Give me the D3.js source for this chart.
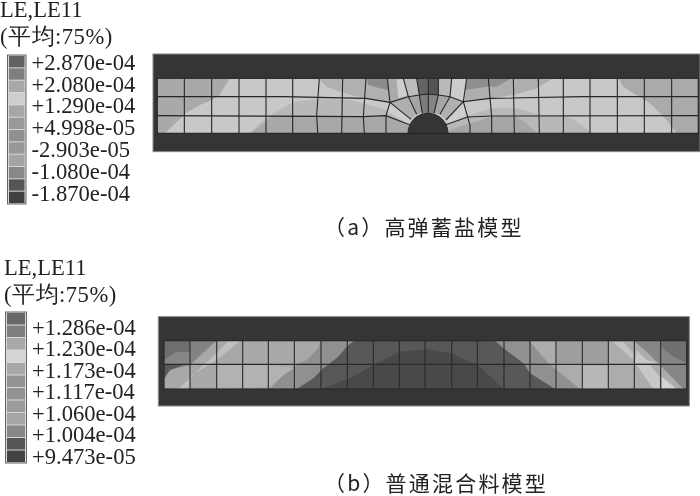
<!DOCTYPE html>
<html>
<head>
<meta charset="utf-8">
<script src="https://cdn.jsdelivr.net/npm/d3@7"></script>
<style>
  html, body { margin: 0; padding: 0; background: #fff; }
  text { font-family: 'Liberation Serif', serif; fill: #222; }
  .cjk { font-family: 'Noto Sans CJK SC', sans-serif; }
</style>
</head>
<body>
<svg id="chart" width="700" height="496"></svg>
<script>
// legends
const legendTitle = 'LE,LE11';
const legendSub = '(平均:75%)';
const legendGreysA = [98, 126, 168, 206, 166, 153, 144, 152, 164, 136, 84, 64];
const legendGreysB = [104, 126, 168, 212, 168, 148, 146, 156, 166, 136, 84, 66];
const ticksA = ['+2.870e-04', '+2.080e-04', '+1.290e-04', '+4.998e-05', '-2.903e-05', '-1.080e-04', '-1.870e-04'];
const ticksB = ['+1.286e-04', '+1.230e-04', '+1.173e-04', '+1.117e-04', '+1.060e-04', '+1.004e-04', '+9.473e-05'];
const captionA = '（a）高弹蓄盐模型';
const captionB = '（b）普通混合料模型';

// model (a): straight-ish columns and mesh lines, model units
const meshA = [
  [[103, 100], [103, 265]], [[185, 100], [185, 265]], [[267, 100], [267, 265]],
  [[348, 100], [348, 265]], [[428, 100], [428, 265]],
  [[508, 100], [500, 210], [503, 265]], [[578, 100], [575, 265]],
  [[648, 100], [640, 215], [643, 265]],
  [[712, 100], [720, 172], [708, 212], [708, 265]],
  [[760, 100], [775, 155], [800, 208]], [[800, 100], [808, 150], [817, 205]],
  [[835, 100], [835, 205]], [[865, 100], [865, 150], [852, 205]],
  [[905, 100], [900, 155], [870, 208]],
  [[950, 100], [940, 170], [953, 216], [960, 240], [960, 265]],
  [[1015, 100], [1025, 215], [1025, 265]], [[1090, 100], [1093, 265]],
  [[1165, 100], [1168, 265]], [[1240, 100], [1240, 265]], [[1320, 100], [1320, 265]],
  [[1402, 100], [1402, 265]], [[1483, 100], [1483, 265]], [[1565, 100], [1565, 265]],
  // rows
  [[22, 155], [400, 155], [648, 160], [720, 172], [775, 155], [808, 150], [835, 147],
   [865, 150], [900, 155], [940, 170], [1020, 160], [1300, 155], [1650, 155]],
  [[22, 212], [640, 215], [708, 212], [780, 240]],
  [[885, 240], [953, 216], [1025, 213], [1650, 212]],
  // spokes to the hole
  [[720, 172], [783, 223]], [[940, 170], [888, 225]],
];

// contour patches of (a): grey level, outline
const contoursA = [
  [169, [[22, 100], [240, 100], [205, 155], [185, 165], [150, 180], [105, 205], [100, 212], [70, 240], [45, 265], [22, 265]]],
  [184, [[300, 265], [330, 235], [370, 205], [430, 172], [510, 160], [600, 165], [660, 180], [720, 200], [775, 240], [770, 265]]],
  [168, [[300, 265], [335, 240], [370, 210], [500, 210], [640, 215], [708, 212], [780, 245], [770, 265]]],
  [176, [[505, 100], [530, 125], [600, 150], [650, 160], [720, 172], [712, 100]]],
  [140, [[650, 100], [655, 120], [690, 130], [716, 135], [712, 100]]],
  [170, [[1405, 100], [1650, 100], [1650, 265], [1580, 265], [1550, 225], [1500, 175], [1450, 145], [1420, 125]]],
  [174, [[950, 100], [945, 165], [1020, 160], [1090, 150], [1160, 130], [1210, 100]]],
  [142, [[950, 100], [945, 135], [1010, 125], [1040, 125], [1085, 100]]],
  [184, [[885, 240], [960, 210], [1025, 190], [1100, 190], [1170, 210], [1240, 210], [1290, 235], [1325, 265], [895, 265]]],
  [166, [[895, 265], [900, 255], [960, 235], [1025, 215], [1100, 215], [1130, 235], [1160, 265]]],
  // fan round the hole
  [170, [[712, 100], [800, 100], [808, 150], [775, 155], [720, 172]]],
  [206, [[740, 105], [760, 100], [775, 150], [745, 160]]],
  [188, [[760, 100], [800, 100], [808, 150], [775, 155]]],
  [100, [[800, 100], [835, 100], [835, 147], [808, 150]]],
  [84, [[835, 100], [865, 100], [865, 150], [835, 147]]],
  [185, [[865, 100], [905, 100], [900, 155], [865, 150]]],
  [204, [[905, 100], [950, 100], [940, 170], [900, 155]]],
  [175, [[720, 172], [775, 155], [800, 208], [783, 223]]],
  [206, [[720, 172], [783, 225], [770, 232], [712, 200]]],
  [165, [[775, 155], [808, 150], [817, 205], [800, 208]]],
  [125, [[808, 150], [835, 147], [835, 205], [817, 205]]],
  [132, [[835, 147], [865, 150], [852, 205], [835, 205]]],
  [165, [[865, 150], [900, 155], [870, 208], [852, 205]]],
  [175, [[900, 155], [940, 170], [888, 225], [870, 208]]],
  [206, [[940, 170], [888, 225], [900, 235], [953, 200]]],
];

// model (b): columns, model units
const columnsB = [120, 200, 278, 355, 433, 513, 592, 670, 748, 825, 905, 982, 1062, 1140, 1218, 1297, 1375, 1453, 1532];
const contoursB = [
  [88, [[42, 92], [1035, 92], [1060, 115], [1120, 160], [1140, 190], [1215, 237], [1060, 237], [990, 170], [905, 130], [830, 118], [750, 125], [670, 165], [600, 205], [515, 237], [42, 237]]],
  [144, [[42, 92], [612, 92], [590, 110], [565, 140], [520, 175], [490, 205], [440, 237], [42, 237]]],
  [168, [[42, 92], [512, 92], [505, 115], [470, 150], [440, 165], [400, 195], [360, 237], [42, 237]]],
  [178, [[200, 165], [355, 165], [433, 175], [400, 195], [360, 230], [200, 237]]],
  [134, [[42, 92], [200, 92], [120, 165], [60, 180], [42, 210]]],
  [110, [[42, 92], [120, 92], [120, 125], [80, 125], [42, 150]]],
  [130, [[125, 92], [195, 92], [125, 150]]],
  [90, [[42, 165], [100, 165], [60, 180], [42, 205]]],
  [192, [[235, 92], [272, 92], [200, 150], [175, 165], [120, 200], [120, 237], [85, 237], [120, 205], [160, 165], [200, 130]]],
  [144, [[1035, 92], [1610, 92], [1610, 237], [1215, 237], [1140, 190], [1120, 160], [1060, 115]]],
  [172, [[1140, 95], [1195, 160], [1290, 237], [1610, 237], [1610, 92], [1140, 92]]],
  [158, [[1220, 92], [1375, 92], [1375, 160], [1220, 160]]],
  [184, [[1297, 168], [1375, 168], [1375, 237], [1297, 237]]],
  [134, [[1450, 92], [1610, 92], [1610, 237], [1600, 237], [1530, 165], [1490, 125]]],
  [112, [[1532, 92], [1610, 92], [1610, 160], [1570, 140], [1532, 110]]],
  [196, [[1390, 95], [1420, 95], [1450, 130], [1450, 150]]],
  [200, [[1460, 120], [1490, 150], [1530, 160], [1455, 160]]],
  [200, [[1460, 165], [1500, 165], [1530, 200], [1530, 237], [1510, 237]]],
  [134, [[1532, 165], [1610, 165], [1610, 237]]],
  [212, [[1535, 200], [1580, 237], [1535, 237]]],
];

const svg = d3.select('#chart');
const defs = svg.append('defs');
defs.append('filter').attr('id', 'soft').append('feGaussianBlur').attr('stdDeviation', 0.45);
const grey = v => d3.rgb(v, v, v).toString();

function legend(g, greys, ticks, x, y0, y1, width, titleX, titleY, labelY0, labelY1) {
  const band = d3.scaleBand().domain(d3.range(greys.length)).range([y0, y1]).paddingInner(0.08);
  g.append('rect').attr('x', x).attr('y', y0 - 1).attr('width', width).attr('height', y1 - y0 + 2)
    .attr('fill', '#d8d8d8').attr('stroke', '#666');
  g.selectAll('.swatch').data(greys).join('rect').attr('class', 'swatch')
    .attr('x', x + 1.5).attr('y', (d, i) => band(i))
    .attr('width', width - 3).attr('height', band.bandwidth())
    .attr('fill', grey);
  const tick = d3.scalePoint().domain(ticks).range([labelY0, labelY1]);
  const axis = d3.axisRight(tick).tickSize(0).tickPadding(0);
  const ag = g.append('g').attr('transform', `translate(${x + width + 5.5},0)`).call(axis);
  ag.select('.domain').remove();
  ag.selectAll('text').attr('font-size', 22.6).attr('font-family', null).attr('fill', null);
  g.append('text').attr('x', titleX).attr('y', titleY).attr('font-size', 22.6).text(legendTitle);
  g.append('text').attr('x', titleX).attr('y', titleY + 27).attr('font-size', 22.6)
    .attr('letter-spacing', 0.5).text(legendSub);
}

function panel(g, id, x, y, frame, band, contours) {
  const line = d3.line().x(d => x(d[0])).y(d => y(d[1]));
  g.append('rect').attr('x', x(frame[0])).attr('y', y(frame[1]))
    .attr('width', x(frame[2]) - x(frame[0])).attr('height', y(frame[3]) - y(frame[1]))
    .attr('fill', '#343434').attr('stroke', '#8a8a8a').attr('stroke-width', 1);
  defs.append('clipPath').attr('id', id).append('rect')
    .attr('x', x(band[0])).attr('y', y(band[1]))
    .attr('width', x(band[2]) - x(band[0])).attr('height', y(band[3]) - y(band[1]));
  const c = g.append('g').attr('clip-path', `url(#${id})`);
  c.append('rect').attr('x', x(band[0])).attr('y', y(band[1]))
    .attr('width', x(band[2]) - x(band[0])).attr('height', y(band[3]) - y(band[1]))
    .attr('fill', grey(band[4]));
  c.selectAll('.patch').data(contours).join('path').attr('class', 'patch')
    .attr('d', d => line(d[1]) + 'Z').attr('fill', d => grey(d[0]));
  return { line, clip: c };
}

// (a)
const xA = d3.scaleLinear().domain([0, 1650]).range([150, 700]);
const yA = d3.scaleLinear().domain([0, 345]).range([45, 160]);
const gA = svg.append('g').attr('filter', 'url(#soft)');
legend(gA, legendGreysA, ticksA, 7.5, 56, 203, 18.5, 0, 17, 62, 193);
const pA = panel(gA, 'clipA', xA, yA, [9, 27, 1650, 320], [22, 100, 1645, 265, 200], contoursA);
pA.clip.selectAll('.mesh').data(meshA).join('path').attr('class', 'mesh')
  .attr('d', pA.line).attr('fill', 'none').attr('stroke', '#252525').attr('stroke-width', 1.1);
gA.append('rect').attr('x', xA(22)).attr('y', yA(100)).attr('width', xA(1645) - xA(22)).attr('height', yA(265) - yA(100))
  .attr('fill', 'none').attr('stroke', '#2a2a2a').attr('stroke-width', 1.2);
const hole = d3.arc().innerRadius(0).outerRadius(xA(60) - xA(0)).startAngle(-Math.PI / 2).endAngle(Math.PI / 2);
gA.append('path').attr('d', hole()).attr('transform', `translate(${xA(834)},${yA(265)})`)
  .attr('fill', '#343434').attr('stroke', '#252525');
gA.append('text').attr('class', 'cjk').attr('x', 324).attr('y', 235).attr('font-size', 21)
  .attr('letter-spacing', 2.2).text(captionA);

// (b)
const xB = d3.scaleLinear().domain([0, 1650]).range([150, 700]);
const yB = d3.scaleLinear().domain([0, 300]).range([310, 410]);
const gB = svg.append('g').attr('filter', 'url(#soft)');
legend(gB, legendGreysB, ticksB, 5.5, 313, 462, 21, 4, 275, 327, 456);
const pB = panel(gB, 'clipB', xB, yB, [25, 20, 1618, 288], [42, 92, 1610, 237, 72], contoursB);
pB.clip.selectAll('.col').data(columnsB).join('line').attr('class', 'col')
  .attr('x1', d => xB(d)).attr('x2', d => xB(d)).attr('y1', yB(92)).attr('y2', yB(237))
  .attr('stroke', '#2a2a2a').attr('stroke-width', 1.1);
pB.clip.append('line').attr('x1', xB(42)).attr('x2', xB(1610)).attr('y1', yB(163)).attr('y2', yB(163))
  .attr('stroke', '#2a2a2a').attr('stroke-width', 1.1);
gB.append('rect').attr('x', xB(42)).attr('y', yB(92)).attr('width', xB(1610) - xB(42)).attr('height', yB(237) - yB(92))
  .attr('fill', 'none').attr('stroke', '#2a2a2a').attr('stroke-width', 1.2);
gB.append('text').attr('class', 'cjk').attr('x', 324).attr('y', 491).attr('font-size', 21)
  .attr('letter-spacing', 2.2).text(captionB);
</script>
</body>
</html>
